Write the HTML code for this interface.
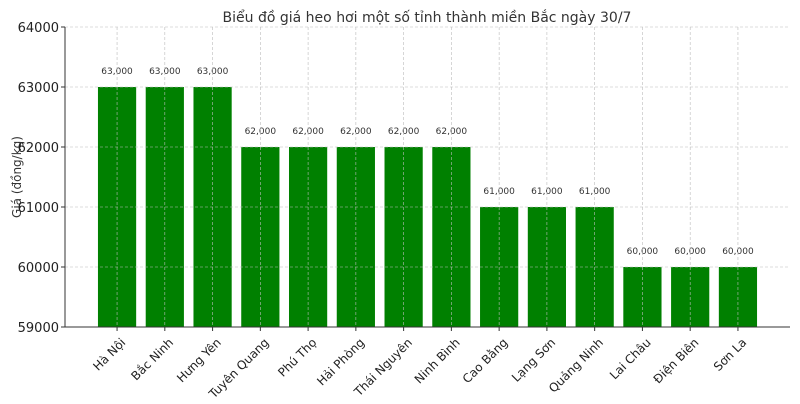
<!DOCTYPE html>
<html><head><meta charset="utf-8"><style>
body{margin:0;background:#fff;font-family:"DejaVu Sans","Liberation Sans",sans-serif}
</style></head><body>
<svg id="c" width="800" height="400" xmlns="http://www.w3.org/2000/svg" font-family="DejaVu Sans, Liberation Sans, sans-serif">
<text x="427" y="22" text-anchor="middle" font-size="14" fill="#333">Biểu đồ giá heo hơi một số tỉnh thành miền Bắc ngày 30/7</text>
<text transform="translate(21,177) rotate(-90)" text-anchor="middle" font-size="12" fill="#333">Giá (đồng/kg)</text>
<g id="bars"></g><g id="grid"></g><g id="axes"></g>
</svg>
<script>
const categories=["Hà Nội","Bắc Ninh","Hưng Yên","Tuyên Quang","Phú Thọ","Hải Phòng","Thái Nguyên","Ninh Bình","Cao Bằng","Lạng Sơn","Quảng Ninh","Lai Châu","Điện Biên","Sơn La"];
const prices=[63000,63000,63000,62000,62000,62000,62000,62000,61000,61000,61000,60000,60000,60000];
const yTicks=[59000,60000,61000,62000,63000,64000];
const NS="http://www.w3.org/2000/svg";
const L=65,R=790,T=27,B=327,yMin=59000,yMax=64000;
const n=categories.length,xlo=-0.4-0.05*(n-0.2),xhi=n-1+0.4+0.05*(n-0.2);
const x=i=>L+(i-xlo)/(xhi-xlo)*(R-L);
const y=v=>B-(v-yMin)/(yMax-yMin)*(B-T);
const bw=0.8*(R-L)/(xhi-xlo);
function mk(p,tag,a){const e=document.createElementNS(NS,tag);for(const k in a)e.setAttribute(k,a[k]);document.getElementById(p).appendChild(e);return e;}
prices.forEach((v,i)=>{
 const r=mk("bars","rect",{x:x(i)-bw/2,y:y(v),width:bw,height:B-y(v),fill:"#008000"});
 
 
 const t=mk("bars","text",{x:x(i),y:y(v)-13,"text-anchor":"middle","font-size":"9",fill:"#333"});
 t.textContent=v.toLocaleString("en-US");
 
 
 mk("grid","line",{x1:x(i),x2:x(i),y1:T,y2:B,stroke:"#bbb","stroke-width":0.6,"stroke-dasharray":"3,2"});
 mk("axes","line",{x1:x(i),x2:x(i),y1:B,y2:B+4,stroke:"#333"});
 const lb=mk("axes","text",{transform:`translate(${x(i)+3},${B+10}) rotate(-45)`,"text-anchor":"end","dominant-baseline":"hanging","font-size":"12",fill:"#222"});
 lb.textContent=categories[i];
 
 
});
yTicks.forEach(v=>{
 mk("grid","line",{x1:L,x2:R,y1:y(v),y2:y(v),stroke:"#bbb","stroke-width":0.6,"stroke-dasharray":"3,2"});
 mk("axes","line",{x1:L-4,x2:L,y1:y(v),y2:y(v),stroke:"#333"});
 const t=mk("axes","text",{x:L-6,y:y(v)+5,"text-anchor":"end","font-size":"13",fill:"#222"});
 t.textContent=v;
 
 
});
mk("axes","line",{x1:L,x2:L,y1:T,y2:B,stroke:"#333"});
mk("axes","line",{x1:L,x2:R,y1:B,y2:B,stroke:"#333"});
</script>
</body></html>
